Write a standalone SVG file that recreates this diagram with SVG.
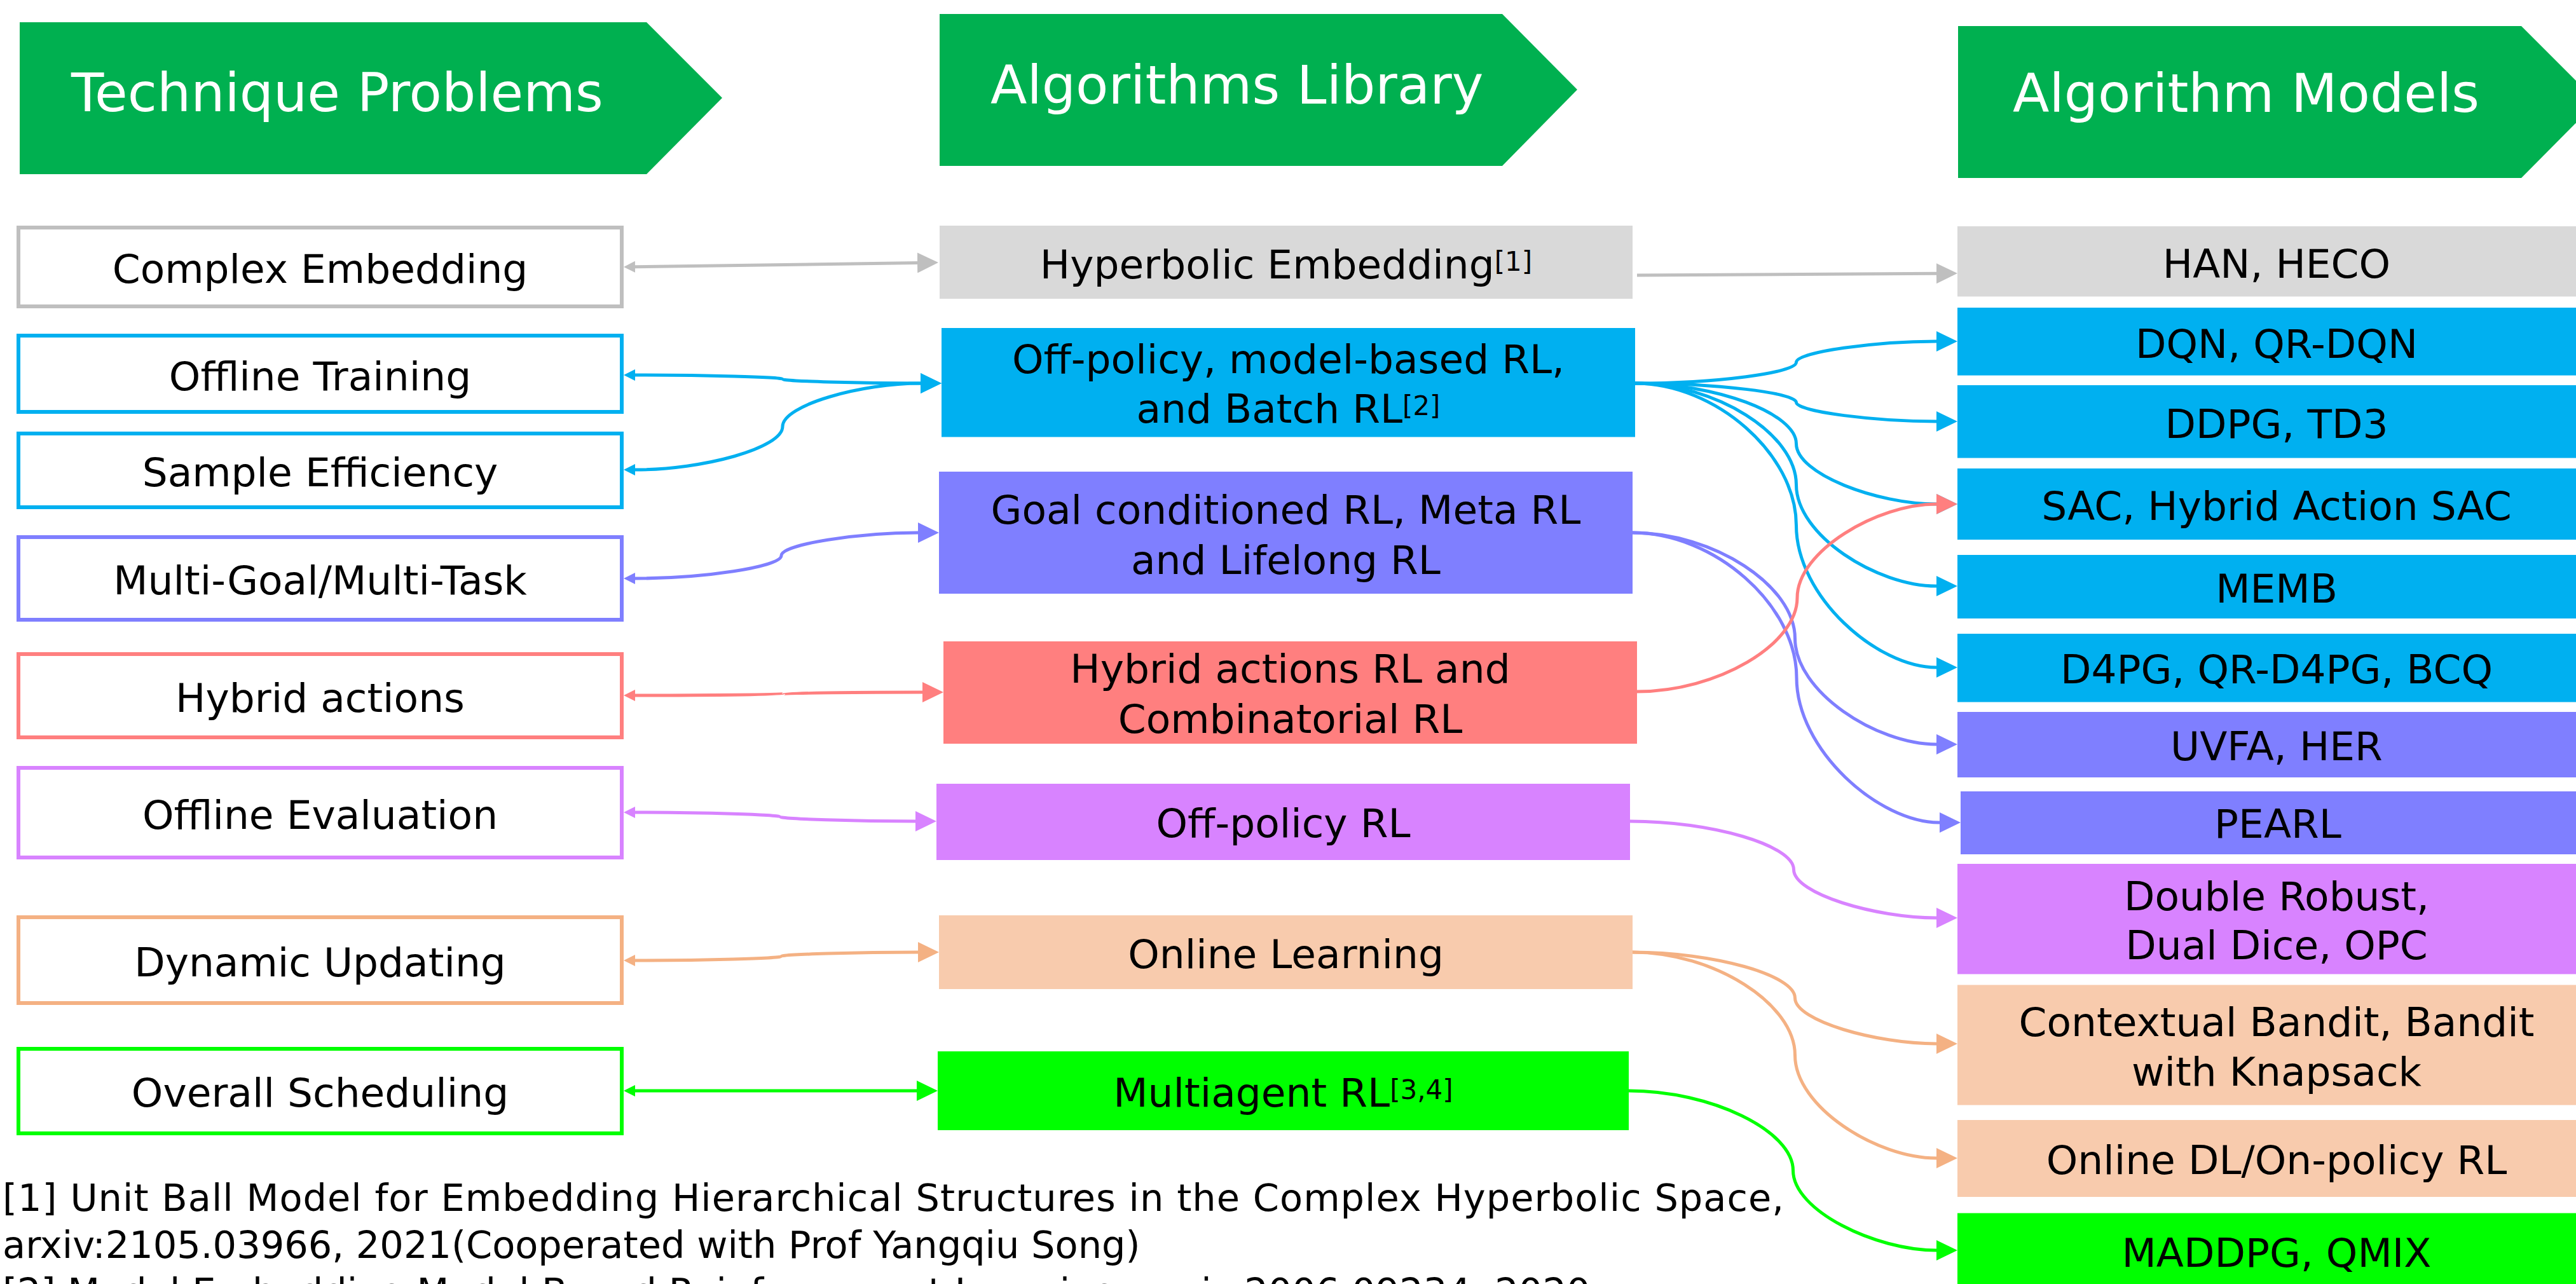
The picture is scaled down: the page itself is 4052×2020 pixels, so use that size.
<svg xmlns="http://www.w3.org/2000/svg" width="4052" height="2020" viewBox="0 0 4052 2020">
<style>
.hdr{fill:#00B050}
.ht{font-family:"DejaVu Sans",Verdana,sans-serif;font-size:84px;fill:#FFFFFF}
.t{font-family:"DejaVu Sans",Verdana,sans-serif;font-size:63px;fill:#000000;text-anchor:middle}
.sup{font-size:42px}
.lb{fill:#FFFFFF;stroke-width:6}
.c{fill:none;stroke-width:5}
.fn{font-family:"DejaVu Sans",Verdana,sans-serif;font-size:59px;fill:#000000}
</style>
<defs>
<marker id="eG" markerUnits="userSpaceOnUse" markerWidth="33" markerHeight="32" viewBox="0 0 33 32" refX="0" refY="16" orient="auto"><path d="M0,0L33,16L0,32z" fill="#BFBFBF"/></marker>
<marker id="eB" markerUnits="userSpaceOnUse" markerWidth="33" markerHeight="32" viewBox="0 0 33 32" refX="0" refY="16" orient="auto"><path d="M0,0L33,16L0,32z" fill="#00B0F0"/></marker>
<marker id="eL" markerUnits="userSpaceOnUse" markerWidth="33" markerHeight="32" viewBox="0 0 33 32" refX="0" refY="16" orient="auto"><path d="M0,0L33,16L0,32z" fill="#7F7FFF"/></marker>
<marker id="eR" markerUnits="userSpaceOnUse" markerWidth="33" markerHeight="32" viewBox="0 0 33 32" refX="0" refY="16" orient="auto"><path d="M0,0L33,16L0,32z" fill="#FF7F7F"/></marker>
<marker id="eP" markerUnits="userSpaceOnUse" markerWidth="33" markerHeight="32" viewBox="0 0 33 32" refX="0" refY="16" orient="auto"><path d="M0,0L33,16L0,32z" fill="#D883FF"/></marker>
<marker id="eO" markerUnits="userSpaceOnUse" markerWidth="33" markerHeight="32" viewBox="0 0 33 32" refX="0" refY="16" orient="auto"><path d="M0,0L33,16L0,32z" fill="#F4B183"/></marker>
<marker id="eN" markerUnits="userSpaceOnUse" markerWidth="33" markerHeight="32" viewBox="0 0 33 32" refX="0" refY="16" orient="auto"><path d="M0,0L33,16L0,32z" fill="#00FF00"/></marker>
<marker id="sG" markerUnits="userSpaceOnUse" markerWidth="18" markerHeight="18" viewBox="0 0 18 18" refX="0" refY="9" orient="auto-start-reverse"><path d="M0,0L18,9L0,18z" fill="#BFBFBF"/></marker>
<marker id="sB" markerUnits="userSpaceOnUse" markerWidth="18" markerHeight="18" viewBox="0 0 18 18" refX="0" refY="9" orient="auto-start-reverse"><path d="M0,0L18,9L0,18z" fill="#00B0F0"/></marker>
<marker id="sL" markerUnits="userSpaceOnUse" markerWidth="18" markerHeight="18" viewBox="0 0 18 18" refX="0" refY="9" orient="auto-start-reverse"><path d="M0,0L18,9L0,18z" fill="#7F7FFF"/></marker>
<marker id="sR" markerUnits="userSpaceOnUse" markerWidth="18" markerHeight="18" viewBox="0 0 18 18" refX="0" refY="9" orient="auto-start-reverse"><path d="M0,0L18,9L0,18z" fill="#FF7F7F"/></marker>
<marker id="sP" markerUnits="userSpaceOnUse" markerWidth="18" markerHeight="18" viewBox="0 0 18 18" refX="0" refY="9" orient="auto-start-reverse"><path d="M0,0L18,9L0,18z" fill="#D883FF"/></marker>
<marker id="sO" markerUnits="userSpaceOnUse" markerWidth="18" markerHeight="18" viewBox="0 0 18 18" refX="0" refY="9" orient="auto-start-reverse"><path d="M0,0L18,9L0,18z" fill="#F4B183"/></marker>
<marker id="sN" markerUnits="userSpaceOnUse" markerWidth="18" markerHeight="18" viewBox="0 0 18 18" refX="0" refY="9" orient="auto-start-reverse"><path d="M0,0L18,9L0,18z" fill="#00FF00"/></marker>
</defs>
<rect width="4052" height="2020" fill="#FFFFFF"/>

<!-- Headers -->
<g id="hdr-technique-problems">
<polygon class="hdr" points="31,35 1017,35 1136,154 1017,274 31,274"/>
<text class="ht" x="112" y="175">Technique Problems</text>
</g>
<g id="hdr-algorithms-library">
<polygon class="hdr" points="1478,22 2363,22 2481,141 2363,261 1478,261"/>
<text class="ht" x="1558" y="163">Algorithms Library</text>
</g>
<g id="hdr-algorithm-models">
<polygon class="hdr" points="3080,41 3966,41 4085,160 3966,280 3080,280"/>
<text class="ht" x="3166" y="176">Algorithm Models</text>
</g>

<!-- Connectors -->
<g id="connectors">
<path class="c" stroke="#BFBFBF" stroke-width="6" marker-start="url(#sG)" marker-end="url(#eG)" d="M999,419.7 L1443,413.5"/>
<path class="c" stroke="#00B0F0" marker-start="url(#sB)" marker-end="url(#eB)" d="M999,590 C1106,590 1231,593.25 1231,596.5 C1231,599.75 1356,603 1448,603"/>
<path class="c" stroke="#00B0F0" marker-start="url(#sB)" marker-end="url(#eB)" d="M999,739 C1106,739 1231,705 1231,671 C1231,637 1356,603 1448,603"/>
<path class="c" stroke="#7F7FFF" marker-start="url(#sL)" marker-end="url(#eL)" d="M999,910 C1105,910 1229,892 1229,874 C1229,856 1353,838 1444,838"/>
<path class="c" stroke="#FF7F7F" marker-start="url(#sR)" marker-end="url(#eR)" d="M999,1094 C1106.75,1094 1232.5,1092.75 1232.5,1091.5 C1232.5,1090.25 1358.25,1089 1451,1089"/>
<path class="c" stroke="#D883FF" marker-start="url(#sP)" marker-end="url(#eP)" d="M999,1278 C1104,1278 1227,1281.5 1227,1285 C1227,1288.5 1350,1292 1440,1292"/>
<path class="c" stroke="#F4B183" marker-start="url(#sO)" marker-end="url(#eO)" d="M999,1511 C1105,1511 1229,1507.75 1229,1504.5 C1229,1501.25 1353,1498 1444,1498"/>
<path class="c" stroke="#00FF00" marker-start="url(#sN)" marker-end="url(#eN)" d="M999,1716 L1442,1716"/>

<path class="c" stroke="#BFBFBF" stroke-width="6" marker-end="url(#eG)" d="M2575,433 L3046,430.2"/>
<path class="c" stroke="#00B0F0" marker-end="url(#eB)" d="M2572,603 C2698.75,603 2825.5,586.5 2825.5,570 C2825.5,553.5 2952.25,537 3046,537"/>
<path class="c" stroke="#00B0F0" marker-end="url(#eB)" d="M2572,603 C2698.75,603 2825.5,618 2825.5,633 C2825.5,648 2952.25,663 3046,663"/>
<path class="c" stroke="#00B0F0" marker-end="url(#eB)" d="M2572,603 C2698.75,603 2825.5,650.5 2825.5,698 C2825.5,745.5 2952.25,793 3046,793"/>
<path class="c" stroke="#00B0F0" marker-end="url(#eB)" d="M2572,603 C2698.75,603 2825.5,682.75 2825.5,762.5 C2825.5,842.25 2952.25,922 3046,922"/>
<path class="c" stroke="#00B0F0" marker-end="url(#eB)" d="M2572,603 C2698.75,603 2825.5,714.75 2825.5,826.5 C2825.5,938.25 2952.25,1050 3046,1050"/>
<path class="c" stroke="#7F7FFF" marker-end="url(#eL)" d="M2568,838 C2695.75,838 2823.5,921.25 2823.5,1004.5 C2823.5,1087.75 2951.25,1171 3046,1171"/>
<path class="c" stroke="#7F7FFF" marker-end="url(#eL)" d="M2568,838 C2697,838 2826,952 2826,1066 C2826,1180 2955,1294 3051,1294"/>
<path class="c" stroke="#FF7F7F" marker-end="url(#eR)" d="M2575,1088 C2701,1088 2827,1014.25 2827,940.5 C2827,866.75 2953,793 3046,793"/>
<path class="c" stroke="#D883FF" marker-end="url(#eP)" d="M2564,1292 C2692.75,1292 2821.5,1330 2821.5,1368 C2821.5,1406 2950.25,1444 3046,1444"/>
<path class="c" stroke="#F4B183" marker-end="url(#eO)" d="M2568,1498 C2695.75,1498 2823.5,1534 2823.5,1570 C2823.5,1606 2951.25,1642 3046,1642"/>
<path class="c" stroke="#F4B183" marker-end="url(#eO)" d="M2568,1498 C2695.75,1498 2823.5,1579 2823.5,1660 C2823.5,1741 2951.25,1822 3046,1822"/>
<path class="c" stroke="#00FF00" marker-end="url(#eN)" d="M2562,1716 C2691.25,1716 2820.5,1778.75 2820.5,1841.5 C2820.5,1904.25 2949.75,1967 3046,1967"/>
</g>

<!-- Left column: technique problems -->
<g id="p-complex-embedding"><rect class="lb" stroke="#BFBFBF" x="29" y="358" width="949" height="124"/><text class="t" x="503.5" y="445">Complex Embedding</text></g>
<g id="p-offline-training"><rect class="lb" stroke="#00B0F0" x="29" y="528" width="949" height="120"/><text class="t" x="503.5" y="614">Offline Training</text></g>
<g id="p-sample-efficiency"><rect class="lb" stroke="#00B0F0" x="29" y="682" width="949" height="116"/><text class="t" x="503.5" y="765">Sample Efficiency</text></g>
<g id="p-multi-goal"><rect class="lb" stroke="#7F7FFF" x="29" y="845" width="949" height="130"/><text class="t" x="503.5" y="935">Multi-Goal/Multi-Task</text></g>
<g id="p-hybrid-actions"><rect class="lb" stroke="#FF7F7F" x="29" y="1029" width="949" height="131"/><text class="t" x="503.5" y="1120">Hybrid actions</text></g>
<g id="p-offline-evaluation"><rect class="lb" stroke="#D883FF" x="29" y="1208" width="949" height="141"/><text class="t" x="503.5" y="1304">Offline Evaluation</text></g>
<g id="p-dynamic-updating"><rect class="lb" stroke="#F4B183" x="29" y="1443" width="949" height="135"/><text class="t" x="503.5" y="1536">Dynamic Updating</text></g>
<g id="p-overall-scheduling"><rect class="lb" stroke="#00FF00" x="29" y="1650" width="949" height="133"/><text class="t" x="503.5" y="1741">Overall Scheduling</text></g>

<!-- Middle column: algorithms library -->
<g id="l-hyperbolic-embedding"><rect fill="#D9D9D9" x="1478" y="355" width="1090" height="115"/><text class="t" x="2023" y="437.5">Hyperbolic Embedding<tspan class="sup" dy="-12">[1]</tspan></text></g>
<g id="l-off-policy-model-based"><rect fill="#00B0F0" x="1481" y="516" width="1091" height="171.5"/><text class="t"><tspan x="2026.5" y="587">Off-policy, model-based RL,</tspan><tspan x="2026.5" y="665">and Batch RL<tspan class="sup" dy="-12">[2]</tspan></tspan></text></g>
<g id="l-goal-conditioned"><rect fill="#7F7FFF" x="1477" y="742" width="1091" height="192"/><text class="t"><tspan x="2022.5" y="824">Goal conditioned RL, Meta RL</tspan><tspan x="2022.5" y="903">and Lifelong RL</tspan></text></g>
<g id="l-hybrid-actions-rl"><rect fill="#FF7F7F" x="1484" y="1009" width="1091" height="161"/><text class="t"><tspan x="2029.5" y="1074">Hybrid actions RL and</tspan><tspan x="2029.5" y="1153">Combinatorial RL</tspan></text></g>
<g id="l-off-policy-rl"><rect fill="#D883FF" x="1473" y="1233" width="1091" height="120"/><text class="t" x="2018.5" y="1317">Off-policy RL</text></g>
<g id="l-online-learning"><rect fill="#F8CBAD" x="1477" y="1440" width="1091" height="116"/><text class="t" x="2022.5" y="1523">Online Learning</text></g>
<g id="l-multiagent-rl"><rect fill="#00FF00" x="1475" y="1654" width="1087" height="124"/><text class="t" x="2018.5" y="1741">Multiagent RL<tspan class="sup" dy="-12">[3,4]</tspan></text></g>

<!-- Right column: algorithm models -->
<g id="m-han-heco"><rect fill="#D9D9D9" x="3079" y="356" width="1004" height="110.5"/><text class="t" x="3581" y="436.6">HAN, HECO</text></g>
<g id="m-dqn"><rect fill="#00B0F0" x="3079" y="484" width="1004" height="106.6"/><text class="t" x="3581" y="563">DQN, QR-DQN</text></g>
<g id="m-ddpg"><rect fill="#00B0F0" x="3079" y="606" width="1004" height="114.5"/><text class="t" x="3581" y="689">DDPG, TD3</text></g>
<g id="m-sac"><rect fill="#00B0F0" x="3079" y="737" width="1004" height="112"/><text class="t" x="3581" y="818">SAC, Hybrid Action SAC</text></g>
<g id="m-memb"><rect fill="#00B0F0" x="3079" y="873" width="1004" height="100"/><text class="t" x="3581" y="948">MEMB</text></g>
<g id="m-d4pg"><rect fill="#00B0F0" x="3079" y="997" width="1004" height="107.5"/><text class="t" x="3581" y="1075">D4PG, QR-D4PG, BCQ</text></g>
<g id="m-uvfa"><rect fill="#7F7FFF" x="3079" y="1120" width="1004" height="103"/><text class="t" x="3581" y="1195.5">UVFA, HER</text></g>
<g id="m-pearl"><rect fill="#7F7FFF" x="3084" y="1245" width="999" height="99"/><text class="t" x="3583" y="1318">PEARL</text></g>
<g id="m-double-robust"><rect fill="#D883FF" x="3079" y="1359" width="1004" height="173.5"/><text class="t"><tspan x="3581" y="1432">Double Robust,</tspan><tspan x="3581" y="1509">Dual Dice, OPC</tspan></text></g>
<g id="m-contextual-bandit"><rect fill="#F8CBAD" x="3079" y="1549.5" width="1004" height="189"/><text class="t"><tspan x="3581" y="1630">Contextual Bandit, Bandit</tspan><tspan x="3581" y="1707.6">with Knapsack</tspan></text></g>
<g id="m-online-dl"><rect fill="#F8CBAD" x="3079" y="1762" width="1004" height="121"/><text class="t" x="3581" y="1847">Online DL/On-policy RL</text></g>
<g id="m-maddpg"><rect fill="#00FF00" x="3079" y="1908.5" width="1004" height="150"/><text class="t" x="3581" y="1993">MADDPG, QMIX</text></g>

<!-- Footnotes -->
<g id="footnotes">
<text class="fn" x="4" y="1905" textLength="2802" lengthAdjust="spacing">[1] Unit Ball Model for Embedding Hierarchical Structures in the Complex Hyperbolic Space,</text>
<text class="fn" x="4" y="1979">arxiv:2105.03966, 2021(Cooperated with Prof Yangqiu Song)</text>
<text class="fn" x="4" y="2053">[2] Model Embedding Model-Based Reinforcement Learning, arxiv:2006.09234, 2020</text>
</g>
</svg>
